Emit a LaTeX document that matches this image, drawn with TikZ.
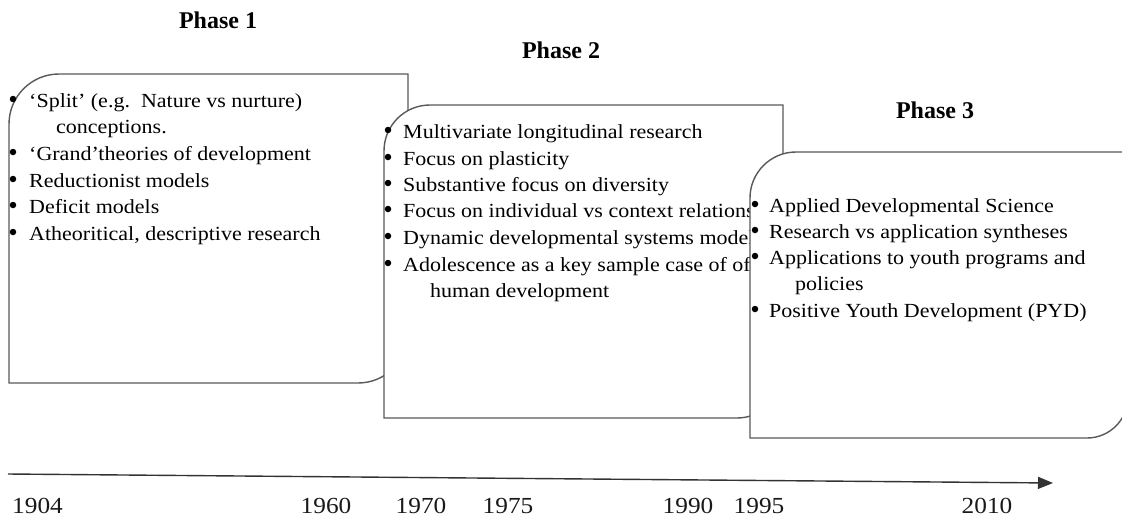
\documentclass[tikz,border=0pt]{standalone}
\usepackage{fontspec}
\setmainfont{Liberation Serif}
\newfontfamily\bodyfont[FakeStretch=1.1]{Liberation Serif}
\newfontfamily\yearfont[FakeStretch=1.1]{Liberation Serif}
\usetikzlibrary{arrows.meta}
\begin{document}
\begin{tikzpicture}[x=1pt,y=-1pt,
  panel/.style={draw=black!65, line width=1.4pt, fill=white},
  item/.style={anchor=base west, inner sep=0pt, text=black,
    font=\bodyfont\fontsize{20}{24}\selectfont},
  dot/.style={circle, fill=black, inner sep=0pt, minimum size=6.5pt},
  phase/.style={anchor=base, inner sep=0pt, font=\bfseries\fontsize{24}{28}\selectfont},
  year/.style={anchor=base, inner sep=0pt, text=black!90,
    font=\yearfont\fontsize{23}{26}\selectfont},
  axis/.style={draw=black!80, line width=1.4pt, -{Triangle[length=15pt,width=12pt]}}
]
\useasboundingbox (0,0) rectangle (1122,517);

% phase titles
\node[phase] (ph1) at (218,28) {Phase 1};
\node[phase] (ph2) at (561,58) {Phase 2};
\node[phase] (ph3) at (935,118) {Phase 3};

% phase 1 panel
\path[panel] (9,124) .. controls (9,96.4) and (31.4,74) .. (59,74) -- (408,74)
  -- (408,333) .. controls (408,360.6) and (385.6,383) .. (358,383) -- (9,383) -- cycle;
\node[dot] (a1d) at (13,99) {};
\node[item] (a1) at (29,107) {‘Split’ (e.g.\ \ Nature vs nurture)};
\node[item] (a1c) at (56,133) {conceptions.};
\node[dot] (a2d) at (13,152) {};
\node[item] (a2) at (29,160) {‘Grand’theories of development};
\node[dot] (a3d) at (13,179) {};
\node[item] (a3) at (29,187) {Reductionist models};
\node[dot] (a4d) at (13,205) {};
\node[item] (a4) at (29,213) {Deficit models};
\node[dot] (a5d) at (13,232) {};
\node[item] (a5) at (29,240) {Atheoritical, descriptive research};

% phase 2 panel
\path[panel] (384,151) .. controls (384,125.6) and (404.4,105) .. (430,105) -- (783,105)
  -- (783,372) .. controls (783,397.4) and (762.4,418) .. (737,418) -- (384,418) -- cycle;
\node[dot] (b1d) at (388,130) {};
\node[item] (b1) at (403,138) {Multivariate longitudinal research};
\node[dot] (b2d) at (388,157) {};
\node[item] (b2) at (403,165) {Focus on plasticity};
\node[dot] (b3d) at (388,183) {};
\node[item] (b3) at (403,191) {Substantive focus on diversity};
\node[dot] (b4d) at (388,209) {};
\node[item] (b4) at (403,217) {Focus on individual vs context relations};
\node[dot] (b5d) at (388,236) {};
\node[item] (b5) at (403,244) {Dynamic developmental systems models};
\node[dot] (b6d) at (388,263) {};
\node[item] (b6) at (403,271) {Adolescence as a key sample case of of};
\node[item] (b6c) at (430,297) {human development};

% phase 3 panel
\path[panel] (750,198) .. controls (750,172.6) and (770.6,152) .. (796,152) -- (1128,152)
  -- (1128,397) .. controls (1128,419.6) and (1109.6,438) .. (1087,438) -- (750,438) -- cycle;
\node[dot] (c1d) at (755,204) {};
\node[item] (c1) at (769,212) {Applied Developmental Science};
\node[dot] (c2d) at (755,230) {};
\node[item] (c2) at (769,238) {Research vs application syntheses};
\node[dot] (c3d) at (755,256) {};
\node[item] (c3) at (769,264) {Applications to youth programs and};
\node[item] (c3c) at (795,290) {policies};
\node[dot] (c4d) at (755,309) {};
\node[item] (c4) at (769,317) {Positive Youth Development (PYD)};

% time axis
\coordinate (t0) at (8,474);
\coordinate (t1) at (1053,483);
\draw[axis] (t0) -- (t1);

\node[year] (y1904) at (37.5,513) {1904};
\node[year] (y1960) at (326,513) {1960};
\node[year] (y1970) at (421,513) {1970};
\node[year] (y1975) at (508,513) {1975};
\node[year] (y1990) at (688,513) {1990};
\node[year] (y1995) at (759,513) {1995};
\node[year] (y2010) at (987,513) {2010};
\end{tikzpicture}
\end{document}
